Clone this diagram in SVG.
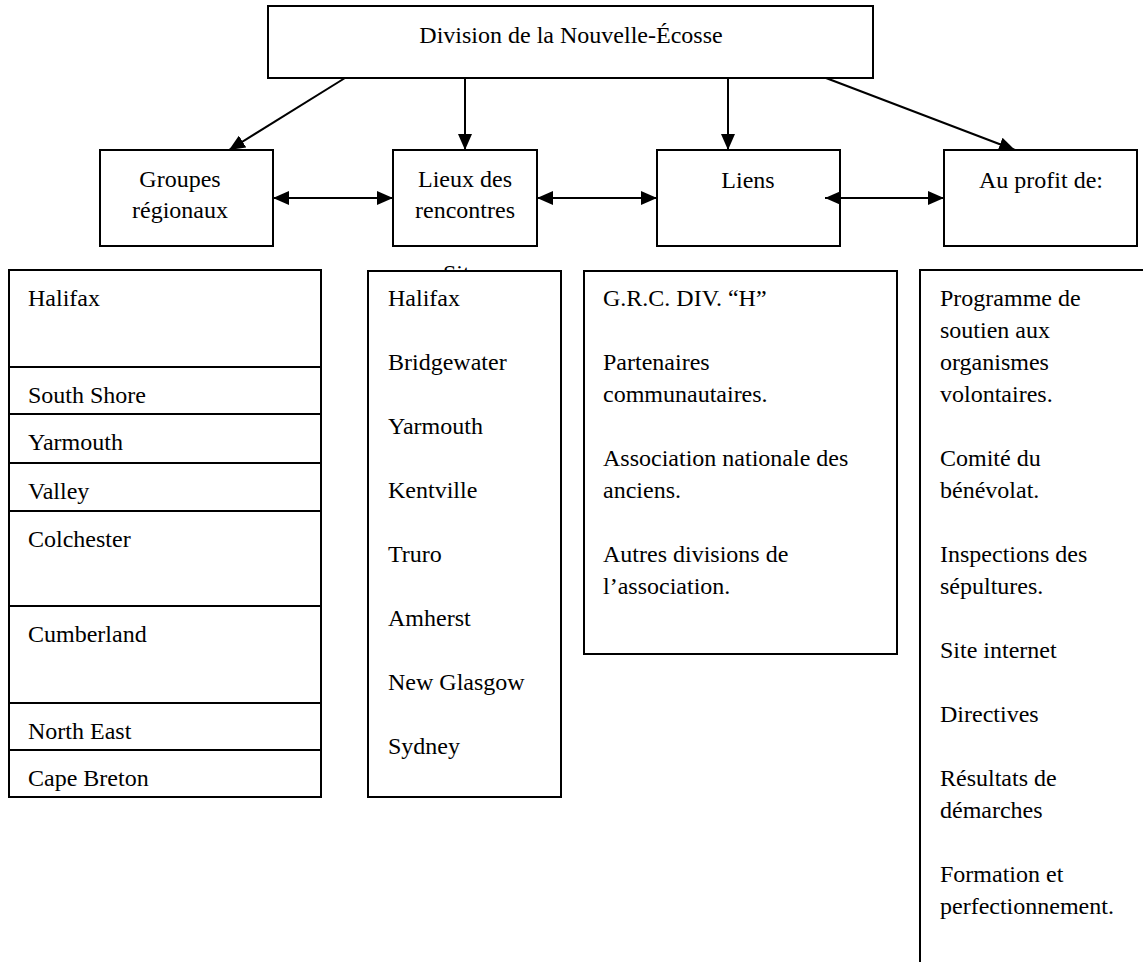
<svg xmlns="http://www.w3.org/2000/svg" width="1143" height="962" viewBox="0 0 1143 962">
<style>
  .box { fill: #ffffff; stroke: #000000; stroke-width: 2; }
  .div { stroke: #000000; stroke-width: 2; }
  .t { font-family: "Liberation Serif", "Times New Roman", serif; font-size: 24px; fill: #000000; }
  .c { text-anchor: middle; }
  .conn { stroke: #000000; stroke-width: 2; fill: none; }
</style>
<defs>
  <marker id="ah" markerUnits="userSpaceOnUse" markerWidth="16" markerHeight="14" refX="16" refY="7" orient="auto-start-reverse">
    <path d="M0,0 L16,7 L0,14 Z" fill="#000000"/>
  </marker>
</defs>
<rect x="0" y="0" width="1143" height="962" fill="#ffffff"/>

<g id="division">
  <rect class="box" x="268" y="6" width="605" height="72"/>
  <text class="t c" x="571" y="43">Division de la Nouvelle-Écosse</text>
</g>

<g id="groupes">
  <rect class="box" x="100" y="150" width="173" height="96"/>
  <text class="t c" x="180" y="187">Groupes</text>
  <text class="t c" x="180" y="218">régionaux</text>
</g>

<g id="lieux">
  <rect class="box" x="393" y="150" width="144" height="96"/>
  <text class="t c" x="465" y="187">Lieux des</text>
  <text class="t c" x="465" y="218">rencontres</text>
</g>

<g id="liens">
  <rect class="box" x="657" y="150" width="183" height="96"/>
  <text class="t c" x="748" y="188">Liens</text>
</g>

<g id="profit">
  <rect class="box" x="944" y="150" width="193" height="96"/>
  <text class="t c" x="1041" y="188">Au profit de:</text>
</g>

<g id="connectors">
  <line class="conn" x1="345" y1="78" x2="229" y2="150" marker-end="url(#ah)"/>
  <line class="conn" x1="465" y1="78" x2="465" y2="150" marker-end="url(#ah)"/>
  <line class="conn" x1="728" y1="78" x2="728" y2="150" marker-end="url(#ah)"/>
  <line class="conn" x1="826" y1="78" x2="1015" y2="150" marker-end="url(#ah)"/>
  <line class="conn" x1="273" y1="198" x2="393" y2="198" marker-start="url(#ah)" marker-end="url(#ah)"/>
  <line class="conn" x1="537" y1="198" x2="657" y2="198" marker-start="url(#ah)" marker-end="url(#ah)"/>
  <line class="conn" x1="825" y1="198" x2="944" y2="198" marker-start="url(#ah)" marker-end="url(#ah)"/>
</g>

<g id="liste-groupes">
  <rect class="box" x="9" y="270" width="312" height="527"/>
  <line class="div" x1="9" y1="367" x2="321" y2="367"/>
  <line class="div" x1="9" y1="414" x2="321" y2="414"/>
  <line class="div" x1="9" y1="463" x2="321" y2="463"/>
  <line class="div" x1="9" y1="511" x2="321" y2="511"/>
  <line class="div" x1="9" y1="606" x2="321" y2="606"/>
  <line class="div" x1="9" y1="703" x2="321" y2="703"/>
  <line class="div" x1="9" y1="750" x2="321" y2="750"/>
  <text class="t" x="28" y="306">Halifax</text>
  <text class="t" x="28" y="403">South Shore</text>
  <text class="t" x="28" y="450">Yarmouth</text>
  <text class="t" x="28" y="499">Valley</text>
  <text class="t" x="28" y="547">Colchester</text>
  <text class="t" x="28" y="642">Cumberland</text>
  <text class="t" x="28" y="739">North East</text>
  <text class="t" x="28" y="786">Cape Breton</text>
</g>

<g id="liste-lieux">
  <text class="t" x="443" y="281">Site</text>
  <rect class="box" x="368" y="271" width="193" height="526"/>
  <text class="t" x="388" y="306">Halifax</text>
  <text class="t" x="388" y="370">Bridgewater</text>
  <text class="t" x="388" y="434">Yarmouth</text>
  <text class="t" x="388" y="498">Kentville</text>
  <text class="t" x="388" y="562">Truro</text>
  <text class="t" x="388" y="626">Amherst</text>
  <text class="t" x="388" y="690">New Glasgow</text>
  <text class="t" x="388" y="754">Sydney</text>
</g>

<g id="liste-liens">
  <rect class="box" x="584" y="271" width="313" height="383"/>
  <text class="t" x="603" y="306">G.R.C. DIV. “H”</text>
  <text class="t" x="603" y="370">Partenaires</text>
  <text class="t" x="603" y="402">communautaires.</text>
  <text class="t" x="603" y="466">Association nationale des</text>
  <text class="t" x="603" y="498">anciens.</text>
  <text class="t" x="603" y="562">Autres divisions de</text>
  <text class="t" x="603" y="594">l’association.</text>
</g>

<g id="liste-profit">
  <rect class="box" x="920" y="270" width="240" height="710"/>
  <text class="t" x="940" y="306">Programme de</text>
  <text class="t" x="940" y="338">soutien aux</text>
  <text class="t" x="940" y="370">organismes</text>
  <text class="t" x="940" y="402">volontaires.</text>
  <text class="t" x="940" y="466">Comité du</text>
  <text class="t" x="940" y="498">bénévolat.</text>
  <text class="t" x="940" y="562">Inspections des</text>
  <text class="t" x="940" y="594">sépultures.</text>
  <text class="t" x="940" y="658">Site internet</text>
  <text class="t" x="940" y="722">Directives</text>
  <text class="t" x="940" y="786">Résultats de</text>
  <text class="t" x="940" y="818">démarches</text>
  <text class="t" x="940" y="882">Formation et</text>
  <text class="t" x="940" y="914">perfectionnement.</text>
</g>
</svg>
